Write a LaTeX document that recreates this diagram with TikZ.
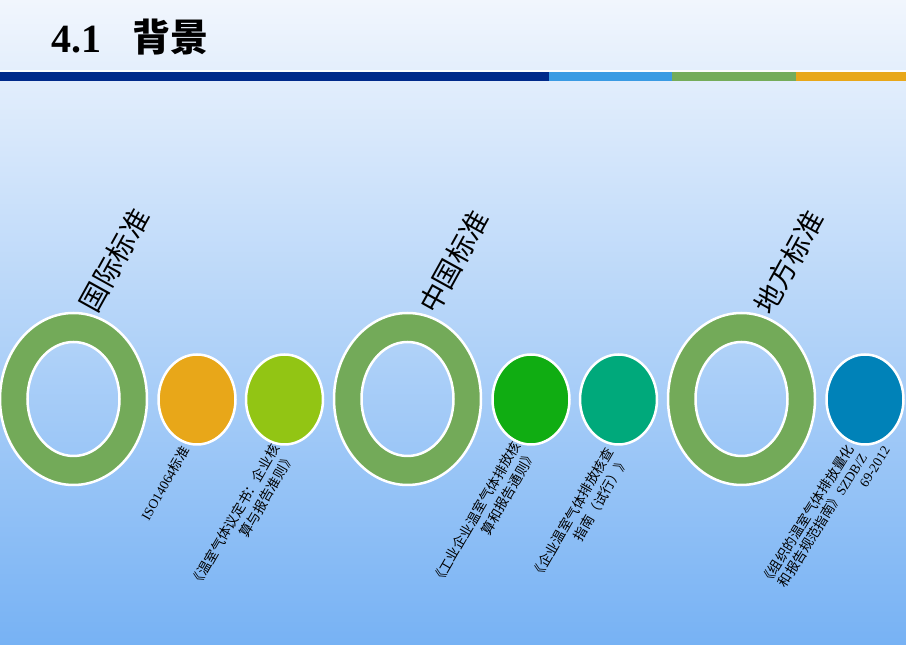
\documentclass[tikz,border=0pt]{standalone}
\usepackage{fontspec}
\setmainfont{Liberation Serif}
\newfontfamily\cjk{Noto Sans CJK SC}
\usetikzlibrary{shapes.geometric}
\definecolor{bgtop}{HTML}{F1F6FD}
\definecolor{bgbot}{HTML}{77B2F4}
\definecolor{navy}{HTML}{002A8A}
\definecolor{skyb}{HTML}{3A9BE3}
\definecolor{barg}{HTML}{74AC5A}
\definecolor{baro}{HTML}{E8A719}
\definecolor{ringg}{HTML}{73AA59}
\definecolor{corange}{HTML}{E8A719}
\definecolor{cyg}{HTML}{92C514}
\definecolor{cgreen}{HTML}{10AD12}
\definecolor{cteal}{HTML}{00A97B}
\definecolor{cblue}{HTML}{0082B8}
\tikzset{
  dot/.style={ellipse, draw=white, line width=2.5pt, minimum width=77pt, minimum height=90pt, inner sep=0pt},
  header/.style={rotate=61, inner sep=0pt, font=\cjk\fontsize{28}{33}\selectfont, text=black},
  lbl/.style={rotate=60, inner sep=0pt, align=right, font=\cjk\fontsize{13.5}{17.5}\selectfont, text=black},
  ringline/.style={draw=white, line width=2.5pt}
}
\begin{document}
\begin{tikzpicture}[x=1pt,y=1pt]
\shade[top color=bgtop, bottom color=bgbot] (0,0) rectangle (906,645);
\useasboundingbox (0,0) rectangle (906,645);
% title
\node[anchor=base west, inner sep=0pt, font=\bfseries\fontsize{40}{44}\selectfont] (t1) at (51,592) {4.1};
\node[anchor=base west, inner sep=0pt, font=\cjk\bfseries\fontsize{38}{44}\selectfont] (t2) at (132,593) {背景};
% bar
\fill[white!70!bgtop] (0,573) rectangle (906,574.5);
\fill[navy] (0,564) rectangle (549,573);
\fill[skyb] (549,564) rectangle (672,573);
\fill[barg] (672,564) rectangle (796,573);
\fill[baro] (796,564) rectangle (906,573);
% labels (drawn below the circles)
\node[lbl] (l1) at (165,162) {{\rmfamily ISO14064}标准};
\node[lbl] (l2) at (242.4,124.8) {《温室气体议定书：企业核\\算与报告准则》};
\node[lbl] (l3) at (484,127.5) {《工业企业温室气体排放核\\算和报告通则》};
\node[lbl] (l4) at (580,127) {《企业温室气体排放核查\\指南（试行）》};
\node[lbl, rotate=-2, font=\cjk\fontsize{13.5}{15.5}\selectfont] (l5) at (820,122) {《组织的温室气体排放量化\\和报告规范指南》{\rmfamily SZDB/Z}\\{\rmfamily 69-2012}\hspace*{-18pt}};
% rings
\foreach \cx/\nm in {73.5/r1, 407.5/r2, 741.5/r3}{
  \coordinate (\nm) at (\cx,246);
  \fill[ringg, even odd rule] (\nm) ellipse [x radius=73.5, y radius=86] (\nm) ellipse [x radius=46, y radius=57];
  \draw[ringline] (\nm) ellipse [x radius=73.5, y radius=86];
  \draw[ringline] (\nm) ellipse [x radius=46, y radius=57];
}
% small circles
\node[dot, fill=corange] (c1) at (197,245.5) {};
\node[dot, fill=cyg] (c2) at (284.5,245.5) {};
\node[dot, fill=cgreen] (c3) at (531,245.5) {};
\node[dot, fill=cteal] (c4) at (618.5,245.5) {};
\node[dot, fill=cblue] (c5) at (865,245.5) {};
% headers
\node[header] (h1) at (114.5,385) {国际标准};
\node[header] (h2) at (454,383.5) {中国标准};
\node[header] (h3) at (789,383) {地方标准};
\end{tikzpicture}
\end{document}
